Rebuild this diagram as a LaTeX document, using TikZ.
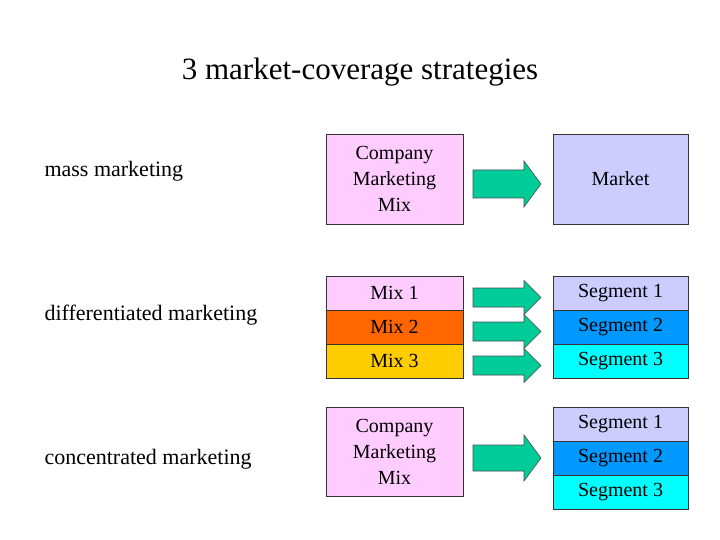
\documentclass[tikz,border=0pt]{standalone}
\usepackage{fontspec}
\setmainfont{Liberation Serif}
\definecolor{pinkc}{HTML}{FFCCFF}
\definecolor{lavc}{HTML}{CCCCFF}
\definecolor{orc}{HTML}{FF6600}
\definecolor{goldc}{HTML}{FFCC00}
\definecolor{bluec}{HTML}{0099FF}
\definecolor{cyanc}{HTML}{00FFFF}
\definecolor{greenc}{HTML}{00CC99}
\tikzset{
 bx/.style={draw=black!80,line width=0.8pt,minimum width=137pt,inner sep=0pt,align=center,font=\fontsize{20}{26}\selectfont},
 sx/.style={draw=black!80,line width=0.8pt,minimum width=135pt,minimum height=34pt,inner sep=0pt,font=\fontsize{20}{24}\selectfont},
 lab/.style={anchor=west,font=\fontsize{22}{26}\selectfont},
 arr/.style={draw=black!70,fill=greenc,line width=0.6pt}
}
\newcommand{\bigarrow}[3]{%
 \draw[arr] (473,#1-#2) -- (524,#1-#2) -- (524,#1-#3) -- (541,#1) -- (524,#1+#3) -- (524,#1+#2) -- (473,#1+#2) -- cycle;}
\begin{document}
\begin{tikzpicture}[x=1pt,y=-1pt]
\useasboundingbox (0,0) rectangle (720,540);
\node[font=\fontsize{31}{36}\selectfont] (title) at (360,72) {3 market-coverage strategies};
\node[lab] (l1) at (41,171) {mass marketing};
\node[lab] (l2) at (41,315) {differentiated marketing};
\node[lab] (l3) at (41,459) {concentrated marketing};
\node[bx,fill=pinkc,minimum height=90pt] (cm1) at (394.5,179) {Company\\Marketing\\Mix};
\node[bx,fill=lavc,minimum height=90pt,minimum width=135pt] (mk) at (620.5,179) {Market};
\node[sx,minimum width=137pt,fill=pinkc] (m1) at (394.5,293) {Mix 1};
\node[sx,minimum width=137pt,fill=orc] (m2) at (394.5,327) {Mix 2};
\node[sx,minimum width=137pt,fill=goldc] (m3) at (394.5,361) {Mix 3};
\node[sx,fill=lavc] (s1) at (620.5,293) {Segment 1};
\node[sx,fill=bluec] (s2) at (620.5,327) {Segment 2};
\node[sx,fill=cyanc] (s3) at (620.5,361) {Segment 3};
\node[bx,fill=pinkc,minimum height=89pt] (cm2) at (394.5,451.5) {Company\\Marketing\\Mix};
\node[sx,fill=lavc] (t1) at (620.5,424) {Segment 1};
\node[sx,fill=bluec] (t2) at (620.5,458) {Segment 2};
\node[sx,fill=cyanc] (t3) at (620.5,492) {Segment 3};
\bigarrow{184}{14}{23}
\bigarrow{297.5}{9.5}{17}
\bigarrow{331.5}{9.5}{17}
\bigarrow{365.5}{9.5}{17}
\bigarrow{458}{13}{23}
\end{tikzpicture}
\end{document}
